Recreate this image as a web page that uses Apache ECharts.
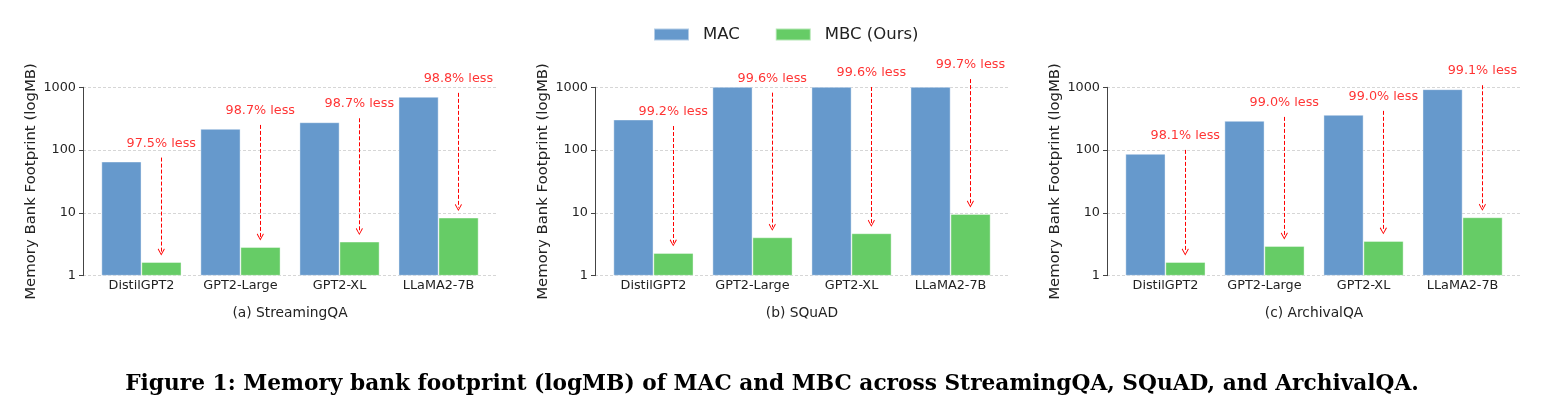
<!DOCTYPE html>
<html>
<head>
<meta charset="utf-8">
<script src="https://cdn.jsdelivr.net/npm/echarts@6.0.0/dist/echarts.min.js"></script>
<style>
html,body{margin:0;padding:0;background:#fff;}
#chart{width:1544px;height:411px;}
</style>
</head>
<body>
<div id="chart"></div>
<script>
// ---- data ----
const categories = ['DistilGPT2', 'GPT2-Large', 'GPT2-XL', 'LLaMA2-7B'];
const seriesNames = ['MAC', 'MBC (Ours)'];
const panelTitles = ['(a) StreamingQA', '(b) SQuAD', '(c) ArchivalQA'];
const yTickValues = [1, 10, 100, 1000];

const macStreaming = [65.5, 217, 277, 703];
const mbcStreaming = [1.65, 2.86, 3.48, 8.4];
const lessStreaming = ['97.5% less', '98.7% less', '98.7% less', '98.8% less'];

const macSquad = [306, 1040, 1280, 1710];
const mbcSquad = [2.30, 4.08, 4.73, 9.6];
const lessSquad = ['99.2% less', '99.6% less', '99.6% less', '99.7% less'];

const macArchival = [86.8, 291, 363, 930];
const mbcArchival = [1.65, 2.97, 3.57, 8.5];
const lessArchival = ['98.1% less', '99.0% less', '99.0% less', '99.1% less'];

const captionText = 'Figure 1: Memory bank footprint (logMB) of MAC and MBC across StreamingQA, SQuAD, and ArchivalQA.';

// ---- styling / layout ----
const panels = [
  {mac: macStreaming, mbc: mbcStreaming, less: lessStreaming, left: 83, textF: 1.96, startF: 1.16},
  {mac: macSquad, mbc: mbcSquad, less: lessSquad, left: 595, textF: 1.34, startF: 0.79},
  {mac: macArchival, mbc: mbcArchival, less: lessArchival, left: 1107, textF: 1.96, startF: 1.16}
];
const BLUE = '#6699cc', GREEN = '#66cc66';
const FONT = 'DejaVu Sans';
const GRID_TOP = 87.3, GRID_H = 188.4, GRID_W = 414;
const GREEN_OFFSET = 0.2; // green bar centre relative to category position
const TIP_F = 1.45;
const chevron = 'path://M5,0 L10,8 L9,9 L5,2 L1,9 L0,8 Z';

const grids = [], xAxes = [], yAxes = [], series = [];
panels.forEach((p, i) => {
  grids.push({left: p.left, top: GRID_TOP, width: GRID_W, height: GRID_H, containLabel: false, outerBoundsMode: 'none'});
  xAxes.push({
    gridIndex: i, type: 'value', min: -0.59, max: 3.59,
    axisLine: {show: false, onZero: false}, axisTick: {show: false}, splitLine: {show: false},
    axisLabel: {customValues: [0, 1, 2, 3], formatter: v => categories[Math.round(v)],
      fontFamily: FONT, fontSize: 12.8, color: '#222', margin: 3},
    name: panelTitles[i], nameLocation: 'middle', nameGap: 31,
    nameTextStyle: {fontFamily: FONT, fontSize: 13.8, color: '#222'}
  });
  yAxes.push({
    gridIndex: i, type: 'log', logBase: 10, min: 1, max: 1000,
    axisLine: {show: true, onZero: false, lineStyle: {color: '#444', width: 1}},
    axisTick: {show: true, length: 4, lineStyle: {color: '#444'}},
    minorTick: {show: false},
    axisLabel: {customValues: yTickValues, formatter: v => String(Math.round(v)),
      fontFamily: FONT, fontSize: 12.8, color: '#222', margin: 7},
    splitLine: {show: true, lineStyle: {color: '#cccccc', type: [3, 2], width: 0.8}},
    name: 'Memory Bank Footprint (logMB)', nameLocation: 'middle', nameGap: 44,
    nameTextStyle: {fontFamily: FONT, fontSize: 14.9, color: '#222'}
  });
  series.push({
    name: seriesNames[0], type: 'bar', xAxisIndex: i, yAxisIndex: i,
    data: p.mac.map((v, j) => [j, v]), barWidth: 40, barGap: '0%',
    itemStyle: {color: BLUE, borderColor: 'rgba(255,255,255,0.5)', borderWidth: 0.8},
    silent: true
  });
  series.push({
    name: seriesNames[1], type: 'bar', xAxisIndex: i, yAxisIndex: i,
    data: p.mbc.map((v, j) => [j, v]), barWidth: 40, barGap: '0%',
    itemStyle: {color: GREEN, borderColor: 'rgba(255,255,255,0.5)', borderWidth: 0.8},
    silent: true
  });
  // dashed red arrows from the reduction label down to the MBC bar
  series.push({
    type: 'lines', coordinateSystem: 'cartesian2d', xAxisIndex: i, yAxisIndex: i,
    silent: true, clip: false, polyline: false,
    symbol: ['none', chevron], symbolSize: 7,
    lineStyle: {color: '#ff0000', type: [4, 2], width: 1, opacity: 1},
    data: p.mac.map((v, j) => ({coords: [
      [j + GREEN_OFFSET, v * p.startF],
      [j + GREEN_OFFSET, p.mbc[j] * TIP_F]
    ]}))
  });
  series.push({
    type: 'scatter', xAxisIndex: i, yAxisIndex: i, silent: true, clip: false,
    symbolSize: 1, itemStyle: {color: 'rgba(0,0,0,0)'},
    data: p.mac.map((v, j) => ({value: [j + GREEN_OFFSET, v * p.textF], label: {formatter: p.less[j]}})),
    label: {show: true, position: 'inside', color: '#ff0000', fontFamily: FONT, fontSize: 12.8},
    labelLayout: {hideOverlap: false}
  });
});

const chart = echarts.init(document.getElementById('chart'), null, {renderer: 'canvas'});
chart.setOption({
  animation: false,
  backgroundColor: '#ffffff',
  legend: {
    data: seriesNames, left: 653, top: 26, padding: 0, icon: 'rect', itemWidth: 35, itemHeight: 12, itemGap: 35,
    textStyle: {fontFamily: FONT, fontSize: 16.5, color: '#222', padding: [0, 0, 0, 9]}
  },
  title: {
    text: captionText, left: 'center', top: 368,
    textStyle: {fontFamily: 'DejaVu Serif', fontWeight: 'bold', fontSize: 21.7, color: '#000'}
  },
  grid: grids, xAxis: xAxes, yAxis: yAxes, series: series
});
</script>
</body>
</html>
